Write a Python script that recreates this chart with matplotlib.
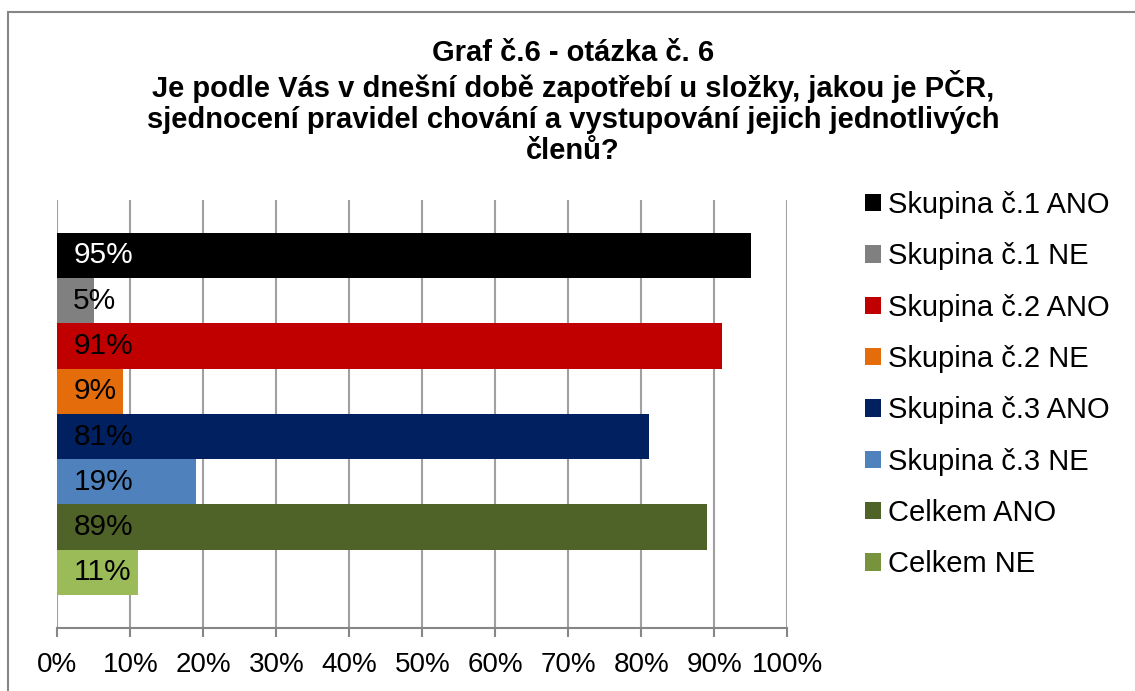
import matplotlib
matplotlib.use("Agg")
import matplotlib.pyplot as plt
from matplotlib.patches import Patch, Rectangle
from matplotlib.ticker import FuncFormatter

plt.rcParams['font.family'] = ['Liberation Sans', 'DejaVu Sans']

series = ["Skupina č.1 ANO", "Skupina č.1 NE", "Skupina č.2 ANO", "Skupina č.2 NE",
          "Skupina č.3 ANO", "Skupina č.3 NE", "Celkem ANO", "Celkem NE"]
values = [95, 5, 91, 9, 81, 19, 89, 11]
bar_colors = ["#000000", "#808080", "#C00000", "#E46C0A",
              "#002060", "#4F81BD", "#4F6228", "#9BBB59"]
legend_colors = ["#000000", "#808080", "#C00000", "#E46C0A",
                 "#002060", "#4F81BD", "#4F6228", "#77933C"]
label_colors = ["white", "black", "black", "black", "black", "black", "black", "black"]
xticks = [0, 10, 20, 30, 40, 50, 60, 70, 80, 90, 100]
title = ("Graf č.6 - otázka č. 6\n"
         "Je podle Vás v dnešní době zapotřebí u složky, jakou je PČR,\n"
         "sjednocení pravidel chování a vystupování jejich jednotlivých\n"
         "členů?")

W, H = 1135, 691
fig = plt.figure(figsize=(W / 100, H / 100), dpi=100)
fig.patch.set_facecolor("white")

# outer chart border
fig.patches.append(Rectangle((8 / W, -0.05), 1.2, (H - 12) / H + 0.05,
                             transform=fig.transFigure, fill=False,
                             edgecolor="#868686", linewidth=1.5))

ax = fig.add_axes([57.3 / W, (H - 627.7) / H, (787.3 - 57.3) / W, (627.7 - 200) / H])
pos = list(range(len(values)))
ax.barh(pos, values, height=1.0, color=bar_colors, zorder=3)
ax.set_xlim(0, 100)
ax.set_ylim(8.22, -1.22)
ax.set_xticks(xticks)
ax.xaxis.set_major_formatter(FuncFormatter(lambda v, p: f"{int(v)}%"))
ax.set_yticks([])
ax.grid(axis="x", color="#A0A0A0", linewidth=1.5, zorder=0)
for s in ["top", "right", "left"]:
    ax.spines[s].set_visible(False)
ax.spines["bottom"].set_color("#868686")
ax.spines["bottom"].set_linewidth(1.5)
ax.tick_params(axis="x", length=6.5, width=1.5, color="#868686", labelsize=20, pad=11)

for p, v, c in zip(pos, values, label_colors):
    ax.annotate(f"{v}%", xy=(0, p), xytext=(16, 0), textcoords="offset pixels",
                ha="left", va="center", fontsize=21.5, color=c, zorder=4)

fig.text(573 / W, 1 - 102 / H, title, ha="center", va="center", fontsize=21,
         fontweight="bold", linespacing=1.14)

handles = [Patch(facecolor=c, edgecolor="none") for c in legend_colors]
fig.legend(handles, series, loc="upper left", bbox_to_anchor=(865 / W, 1 - 191 / H),
           frameon=False, fontsize=21, handlelength=0.55, handleheight=0.55,
           handletextpad=0.24, labelspacing=0.80, borderaxespad=0, borderpad=0)

fig.savefig("out.png", dpi=100)
